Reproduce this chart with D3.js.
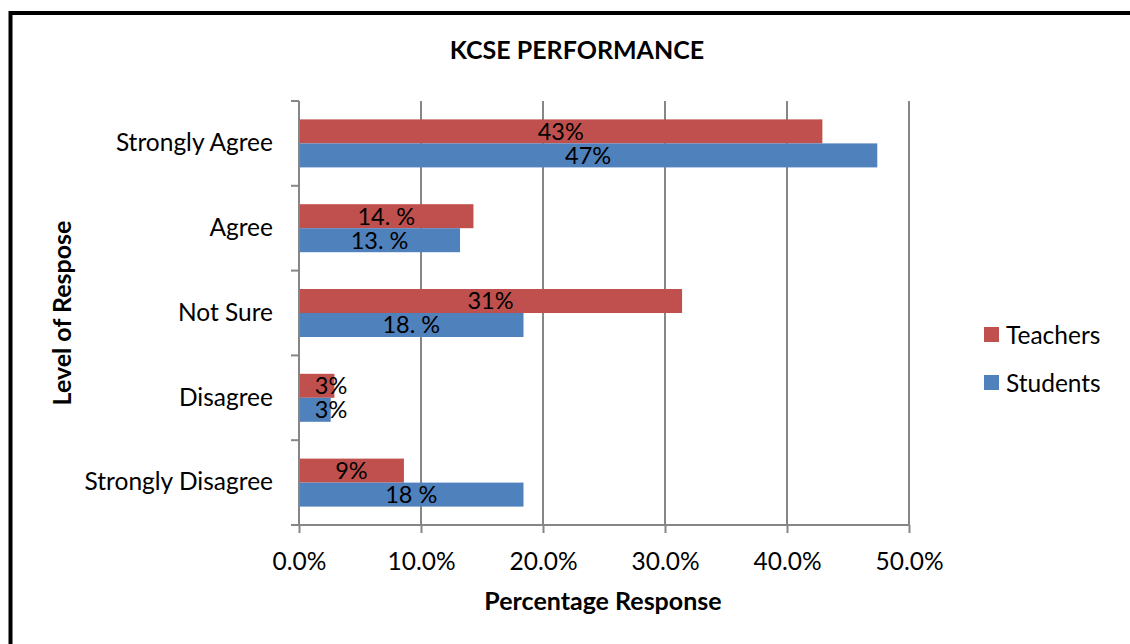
<!DOCTYPE html>
<html>
<head>
<meta charset="utf-8">
<script src="https://cdn.jsdelivr.net/npm/d3@7"></script>
<style>
  body { margin: 0; background: #fff; }
  text { font-family: Lato, "Open Sans", sans-serif; fill: #000; }
</style>
</head>
<body>
<div id="chart"></div>
<script>
// data
var categories = ["Strongly Agree", "Agree", "Not Sure", "Disagree", "Strongly Disagree"];
var seriesNames = ["Teachers", "Students"];
var teachers = [42.9, 14.3, 31.4, 2.9, 8.6];
var students = [47.4, 13.2, 18.4, 2.6, 18.4];
var teacherLabels = ["43%", "14. %", "31%", "3%", "9%"];
var studentLabels = ["47%", "13. %", "18. %", "3%", "18 %"];
var xTicks = [0, 10, 20, 30, 40, 50];

var colors = {Teachers: "#C0504D", Students: "#4F81BD"};
var values = {Teachers: teachers, Students: students};
var labels = {Teachers: teacherLabels, Students: studentLabels};

var fullWidth = 1130, fullHeight = 644;
var margin = {top: 101, left: 299};
var width = 610, height = 424;

var svg = d3.select("#chart").append("svg")
  .attr("width", fullWidth)
  .attr("height", fullHeight);

// outer frame (runs off the right and bottom edge)
svg.append("rect")
  .attr("x", 10.5).attr("y", 13)
  .attr("width", 1140).attr("height", 660)
  .attr("fill", "none").attr("stroke", "#000").attr("stroke-width", 4);

var g = svg.append("g").attr("transform", "translate(" + margin.left + "," + margin.top + ")");

var xScale = d3.scaleLinear().domain([0, 50]).range([0, width]);
var yScale = d3.scaleBand().domain(categories).range([0, height]);
var inner = d3.scaleBand().domain(seriesNames).range([0, 48]);

// gridlines
g.selectAll(".grid").data(xTicks.slice(1)).enter().append("line")
  .attr("x1", function(d) { return xScale(d); })
  .attr("x2", function(d) { return xScale(d); })
  .attr("y1", 0).attr("y2", height)
  .attr("stroke", "#868686").attr("stroke-width", 2);

// bars
seriesNames.forEach(function(s) {
  var rows = categories.map(function(c, i) { return {cat: c, v: values[s][i], lab: labels[s][i]}; });
  var off = (yScale.bandwidth() - 48) / 2;
  g.selectAll(".bar-" + s).data(rows).enter().append("rect")
    .attr("x", xScale(0))
    .attr("y", function(d) { return yScale(d.cat) + off + inner(s); })
    .attr("width", function(d) { return xScale(d.v) - xScale(0); })
    .attr("height", inner.bandwidth())
    .attr("fill", colors[s]);
  g.selectAll(".lab-" + s).data(rows).enter().append("text")
    .attr("x", function(d) { return Math.max(xScale(d.v) / 2, 32); })
    .attr("y", function(d) { return yScale(d.cat) + off + inner(s) + inner.bandwidth() / 2; })
    .attr("dy", "0.36em")
    .attr("text-anchor", "middle")
    .attr("font-size", 23.5)
    .text(function(d) { return d.lab; });
});

// axes
var xAxis = d3.axisBottom(xScale).tickValues(xTicks)
  .tickFormat(function(d) { return d.toFixed(1) + "%"; })
  .tickSize(8).tickSizeOuter(0).tickPadding(20);
var xg = g.append("g").attr("transform", "translate(0," + height + ")").call(xAxis);
xg.select(".domain").attr("stroke", "#868686").attr("stroke-width", 2).attr("d", "M-8,0H" + width);
xg.selectAll(".tick line").attr("stroke", "#868686").attr("stroke-width", 2);
xg.selectAll(".tick text").attr("font-size", 24.5).attr("font-family", "Lato, sans-serif").attr("fill", "#000");

var yAxis = d3.axisLeft(yScale).tickSize(0).tickPadding(26);
var yg = g.append("g").call(yAxis);
yg.select(".domain").attr("stroke", "#868686").attr("stroke-width", 2).attr("d", "M0,0V" + height);
yg.selectAll(".tick text").attr("font-size", 24.5).attr("font-family", "Lato, sans-serif").attr("fill", "#000");
// category dividers
g.selectAll(".ytick").data(d3.range(categories.length + 1)).enter().append("line")
  .attr("x1", -8).attr("x2", 0)
  .attr("y1", function(i) { return i * yScale.step(); })
  .attr("y2", function(i) { return i * yScale.step(); })
  .attr("stroke", "#868686").attr("stroke-width", 2);

// titles
svg.append("text").attr("x", 577).attr("y", 59).attr("text-anchor", "middle")
  .attr("font-size", 25).attr("font-weight", "bold").text("KCSE PERFORMANCE");
svg.append("text").attr("x", 603).attr("y", 610).attr("text-anchor", "middle")
  .attr("font-size", 25).attr("font-weight", "bold").text("Percentage Response");
svg.append("text").attr("transform", "translate(71,313) rotate(-90)").attr("text-anchor", "middle")
  .attr("font-size", 25).attr("font-weight", "bold").text("Level of Respose");

// legend
var legend = svg.selectAll(".legend").data(seriesNames).enter().append("g")
  .attr("transform", function(d, i) { return "translate(984," + (327 + i * 48) + ")"; });
legend.append("rect").attr("width", 15).attr("height", 15).attr("fill", function(d) { return colors[d]; });
legend.append("text").attr("x", 22).attr("y", 8).attr("dy", "0.36em")
  .attr("font-size", 24.5).text(function(d) { return d; });
</script>
</body>
</html>
